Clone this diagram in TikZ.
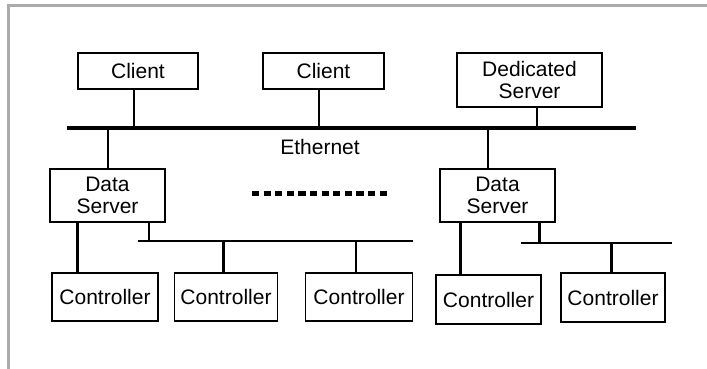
\documentclass[tikz,border=0pt]{standalone}
\usepackage{fontspec}
\setmainfont{Liberation Sans}
\begin{document}
\begin{tikzpicture}[x=1pt,y=-1pt,
  box/.style={draw, line width=1.8pt, inner sep=0pt, align=center,
    font=\fontsize{21}{21.5}\selectfont},
  conn/.style={line width=2pt},
  thickconn/.style={line width=3pt},
  ethbar/.style={line width=3.6pt},
  frameline/.style={line width=3pt, color=black!33},
  dotline/.style={line width=5pt, dash pattern=on 7.2pt off 4.4pt},
  lbl/.style={inner sep=0pt, font=\fontsize{21}{21.5}\selectfont}]
\useasboundingbox (0,0) rectangle (707,369);
\fill[white] (0,0) rectangle (707,369);
% frame
\draw[frameline] (8,369) -- (8,6) -- (707,6);
% top nodes
\node[box, minimum width=120, minimum height=36] (c1) at (138,71) {Client};
\node[box, minimum width=121, minimum height=36] (c2) at (323.5,71) {Client};
\node[box, minimum width=145, minimum height=54] (ds) at (529.5,80) {Dedicated\\Server};
% ethernet
\coordinate (ethL) at (67,128);
\coordinate (ethR) at (636,128);
\draw[ethbar] (ethL) -- (ethR);
\node[lbl] (eth) at (320,147) {Ethernet};
\draw[conn] ([xshift=-4]c1.south) -- ([xshift=-4]c1.south |- ethL);
\draw[conn] ([xshift=-4.5]c2.south) -- ([xshift=-4.5]c2.south |- ethL);
\draw[conn] ([xshift=7.5]ds.south) -- ([xshift=7.5]ds.south |- ethL);
% data servers
\node[box, minimum width=115, minimum height=53] (d1) at (107.5,195.5) {Data\\Server};
\node[box, minimum width=115, minimum height=53] (d2) at (497.5,195.5) {Data\\Server};
\draw[conn] (d1.north) -- (d1.north |- ethL);
\draw[conn] ([xshift=-9.5]d2.north) -- ([xshift=-9.5]d2.north |- ethL);
% dotted ellipsis
\coordinate (dotA) at (252,193);
\coordinate (dotB) at (391,193);
\draw[dotline] (dotA) -- (dotB);
% controllers
\node[box, minimum width=106, minimum height=48] (k1) at (105,297) {Controller};
\node[box, minimum width=103, minimum height=48] (k2) at (226,297) {Controller};
\node[box, minimum width=107, minimum height=48] (k3) at (359,297) {Controller};
\node[box, minimum width=105, minimum height=49] (k4) at (488.5,299.5) {Controller};
\node[box, minimum width=104, minimum height=49] (k5) at (613,297.5) {Controller};
% bus 1
\coordinate (b1L) at (137.5,241);
\coordinate (b1R) at (413,241);
\draw[conn] (b1L) -- (b1R);
\draw[thickconn] ([xshift=-30.5]d1.south) -- ([xshift=-30.5]d1.south |- k1.north);
\draw[conn] ([xshift=41.5]d1.south) -- ([xshift=41.5]d1.south |- b1L);
\draw[thickconn] ([xshift=-3]k2.north |- b1L) -- ([xshift=-3]k2.north);
\draw[conn] ([xshift=-3]k3.north |- b1L) -- ([xshift=-3]k3.north);
% bus 2
\coordinate (b2L) at (521,243);
\coordinate (b2R) at (672,243);
\draw[conn] (b2L) -- (b2R);
\draw[thickconn] ([xshift=-37.5]d2.south) -- ([xshift=-37.5]d2.south |- k4.north);
\draw[thickconn] ([xshift=41.5]d2.south) -- ([xshift=41.5]d2.south |- b2L);
\draw[thickconn] ([xshift=-2]k5.north |- b2L) -- ([xshift=-2]k5.north);
\end{tikzpicture}
\end{document}
